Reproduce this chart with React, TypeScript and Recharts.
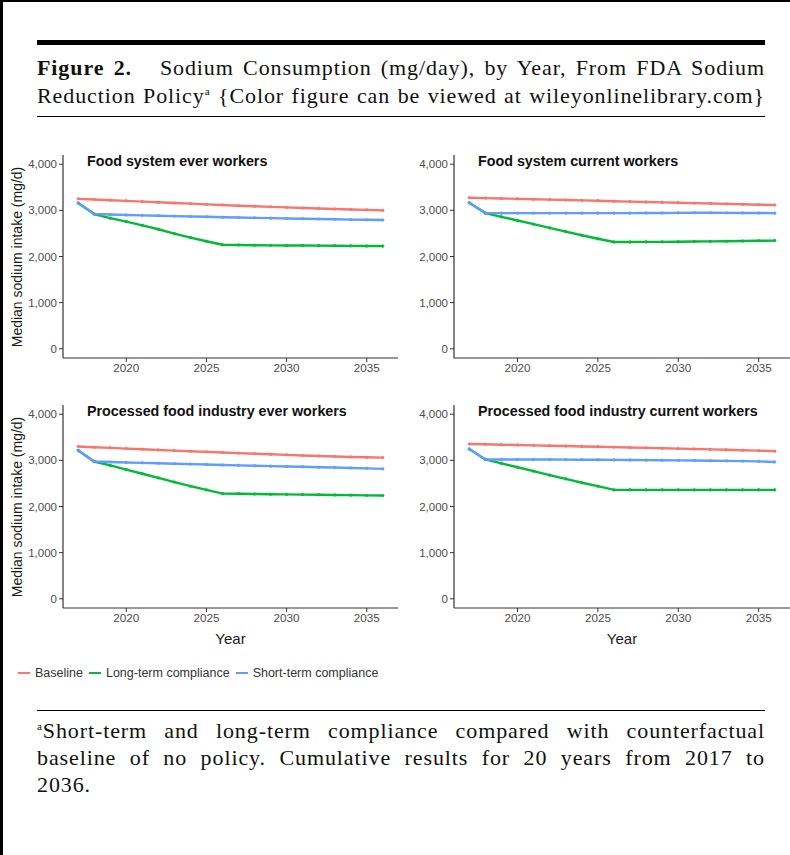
import React from "react";
import { Line, LineChart, XAxis, YAxis } from "recharts";

const years = [
  2017, 2018, 2019, 2020, 2021, 2022, 2023, 2024, 2025, 2026, 2027, 2028, 2029,
  2030, 2031, 2032, 2033, 2034, 2035, 2036,
];
const xTicks = [2020, 2025, 2030, 2035];
const yTicks = [0, 1000, 2000, 3000, 4000];

const seriesKeys = ["baseline", "longTerm", "shortTerm"];
const seriesNames = ["Baseline", "Long-term compliance", "Short-term compliance"];
const seriesColors = ["#F8766D", "#00BA38", "#619CFF"];

const panelTitles = [
  "Food system ever workers",
  "Food system current workers",
  "Processed food industry ever workers",
  "Processed food industry current workers",
];

// Food system ever workers
const foodEverBaseline = [3250, 3235, 3220, 3205, 3190, 3175, 3160, 3145, 3130, 3115, 3100, 3088, 3076, 3064, 3052, 3040, 3030, 3020, 3010, 3000];
const foodEverLong = [3160, 2920, 2830, 2755, 2675, 2590, 2495, 2410, 2330, 2255, 2250, 2245, 2242, 2240, 2238, 2235, 2232, 2230, 2228, 2225];
const foodEverShort = [3160, 2920, 2910, 2900, 2892, 2884, 2876, 2868, 2860, 2852, 2845, 2838, 2831, 2824, 2818, 2812, 2806, 2800, 2795, 2790];

// Food system current workers
const foodCurBaseline = [3275, 3266, 3258, 3250, 3241, 3233, 3224, 3216, 3207, 3199, 3190, 3182, 3173, 3165, 3157, 3148, 3140, 3132, 3123, 3115];
const foodCurLong = [3165, 2940, 2860, 2780, 2700, 2620, 2540, 2460, 2385, 2315, 2315, 2316, 2318, 2320, 2324, 2328, 2332, 2336, 2340, 2345];
const foodCurShort = [3165, 2940, 2940, 2940, 2940, 2940, 2940, 2940, 2940, 2940, 2940, 2942, 2944, 2946, 2948, 2948, 2946, 2944, 2942, 2940];

// Processed food industry ever workers
const procEverBaseline = [3300, 3285, 3270, 3255, 3240, 3226, 3212, 3198, 3184, 3170, 3157, 3144, 3131, 3118, 3106, 3094, 3084, 3074, 3066, 3060];
const procEverLong = [3215, 2975, 2890, 2800, 2710, 2620, 2530, 2440, 2360, 2280, 2275, 2270, 2266, 2262, 2258, 2254, 2250, 2246, 2242, 2238];
const procEverShort = [3215, 2975, 2965, 2955, 2946, 2937, 2928, 2919, 2910, 2901, 2892, 2884, 2876, 2868, 2860, 2852, 2844, 2836, 2826, 2815];

// Processed food industry current workers
const procCurBaseline = [3355, 3348, 3340, 3333, 3325, 3318, 3310, 3302, 3294, 3286, 3278, 3270, 3262, 3254, 3246, 3238, 3229, 3220, 3210, 3200];
const procCurLong = [3245, 3020, 2935, 2850, 2765, 2680, 2600, 2515, 2440, 2360, 2360, 2360, 2360, 2360, 2360, 2360, 2360, 2360, 2360, 2360];
const procCurShort = [3245, 3020, 3020, 3020, 3020, 3018, 3016, 3014, 3012, 3010, 3008, 3005, 3002, 2999, 2996, 2992, 2988, 2984, 2978, 2965];

const buildRows = (baseline: number[], longTerm: number[], shortTerm: number[]) =>
  years.map((year, i) => ({
    year,
    baseline: baseline[i],
    longTerm: longTerm[i],
    shortTerm: shortTerm[i],
  }));

// left/top are inside the bordered frame (3px left border, 2px top border)
const panels = [
  { title: panelTitles[0], rows: buildRows(foodEverBaseline, foodEverLong, foodEverShort), left: -3, top: 143, leftCol: true, bottomRow: false },
  { title: panelTitles[1], rows: buildRows(foodCurBaseline, foodCurLong, foodCurShort), left: 387, top: 143, leftCol: false, bottomRow: false },
  { title: panelTitles[2], rows: buildRows(procEverBaseline, procEverLong, procEverShort), left: -3, top: 393, leftCol: true, bottomRow: true },
  { title: panelTitles[3], rows: buildRows(procCurBaseline, procCurLong, procCurShort), left: 387, top: 393, leftCol: false, bottomRow: true },
];

const sans = "'Liberation Sans', Arial, Helvetica, sans-serif";
const serif = "'Liberation Serif', 'Times New Roman', serif";
const axisColor = "#333333";
const tickColor = "#4d4d4d";

type PanelProps = {
  title: string;
  rows: ReturnType<typeof buildRows>;
  left: number;
  top: number;
  leftCol: boolean;
  bottomRow: boolean;
};

function Panel({ title, rows, left, top, leftCol, bottomRow }: PanelProps) {
  const yAxisWidth = leftCol ? 63 : 64;
  const xAxisHeight = bottomRow ? 42 : 22;
  const plotLeft = left + yAxisWidth;

  return (
    <>
      <div style={{ position: "absolute", left, top, fontFamily: sans }}>
        <LineChart
          width={400}
          height={213 + xAxisHeight}
          data={rows}
          margin={{ top: 10, right: leftCol ? 2 : 0, bottom: 0, left: 0 }}
        >
          <XAxis
            dataKey="year"
            type="number"
            domain={[2016.05, 2036.95]}
            ticks={xTicks}
            allowDataOverflow
            height={xAxisHeight}
            tickSize={4}
            tickMargin={2}
            stroke={axisColor}
            axisLine={{ stroke: axisColor, strokeWidth: 1.2 }}
            tickLine={{ stroke: axisColor }}
            tick={{ fill: tickColor, fontSize: 11.7 }}
            label={
              bottomRow
                ? {
                    value: "Year",
                    position: "insideBottom",
                    offset: 6,
                    style: { fill: "#1a1a1a", fontSize: 15 },
                  }
                : undefined
            }
          />
          <YAxis
            type="number"
            domain={[-200, 4200]}
            ticks={yTicks}
            allowDataOverflow
            width={yAxisWidth}
            tickSize={4}
            tickMargin={2}
            stroke={axisColor}
            axisLine={{ stroke: axisColor, strokeWidth: 1.2 }}
            tickLine={{ stroke: axisColor }}
            tick={{ fill: tickColor, fontSize: 11.5 }}
            tickFormatter={(v: number) => v.toLocaleString("en-US")}
          />
          {seriesKeys.map((key, i) => (
            <Line
              key={key}
              type="linear"
              dataKey={key}
              stroke={seriesColors[i]}
              strokeWidth={2.4}
              dot={{ r: 1.3, fill: seriesColors[i], stroke: seriesColors[i], strokeWidth: 0.6 }}
              isAnimationActive={false}
            />
          ))}
        </LineChart>
      </div>
      <div
        style={{
          position: "absolute",
          left: plotLeft + 24,
          top: top + 8,
          fontFamily: sans,
          fontWeight: "bold",
          fontSize: 14.3,
          color: "#111",
          whiteSpace: "nowrap",
          lineHeight: "16px",
        }}
      >
        {title}
      </div>
      {leftCol ? (
        <div
          style={{
            position: "absolute",
            left: 14,
            top: top + 10 + 101.5,
            transform: "translate(-50%, -50%) rotate(-90deg)",
            fontFamily: sans,
            fontSize: 14,
            lineHeight: "16px",
            color: "#1a1a1a",
            whiteSpace: "nowrap",
          }}
        >
          Median sodium intake (mg/d)
        </div>
      ) : null}
    </>
  );
}

const lineStyle: React.CSSProperties = {
  position: "absolute",
  left: 34,
  width: 728,
  fontFamily: serif,
  fontSize: 22,
  letterSpacing: 0.9,
  lineHeight: "28px",
  color: "#111",
  textAlign: "justify",
  textAlignLast: "justify",
  whiteSpace: "nowrap",
};

export default function App() {
  return (
    <div
      style={{
        position: "absolute",
        left: 0,
        top: 0,
        width: 790,
        height: 855,
        background: "#fff",
        borderTop: "2px solid #000",
        borderLeft: "3px solid #000",
        boxSizing: "border-box",
        overflow: "hidden",
      }}
    >
      <div style={{ position: "absolute", left: 34, top: 38, width: 728, height: 5, background: "#000" }} />
      <div style={{ ...lineStyle, top: 52 }}>
        <b>Figure 2.</b>&nbsp;&nbsp; Sodium Consumption (mg/day), by Year, From FDA Sodium
      </div>
      <div style={{ ...lineStyle, top: 80 }}>
        Reduction Policy<sup style={{ fontSize: 11, lineHeight: 0 }}>a</sup> {"{"}Color figure can be viewed at wileyonlinelibrary.com{"}"}
      </div>
      <div style={{ position: "absolute", left: 34, top: 114, width: 728, height: 1, background: "#000" }} />

      {panels.map((p) => (
        <Panel key={p.title} {...p} />
      ))}

      <div
        style={{
          position: "absolute",
          left: 15,
          top: 664,
          display: "flex",
          alignItems: "center",
          fontFamily: sans,
          fontSize: 12.5,
          color: "#333",
          whiteSpace: "nowrap",
        }}
      >
        {seriesNames.map((name, i) => (
          <div key={name} style={{ display: "flex", alignItems: "center", marginRight: 6 }}>
            <div style={{ width: 12, height: 2, background: seriesColors[i], marginRight: 5 }} />
            <span>{name}</span>
          </div>
        ))}
      </div>

      <div style={{ position: "absolute", left: 34, top: 708, width: 728, height: 1, background: "#000" }} />
      <div style={{ ...lineStyle, top: 715, lineHeight: "27px" }}>
        <sup style={{ fontSize: 11, lineHeight: 0 }}>a</sup>Short-term and long-term compliance compared with counterfactual
      </div>
      <div style={{ ...lineStyle, top: 742, lineHeight: "27px" }}>
        baseline of no policy. Cumulative results for 20 years from 2017 to
      </div>
      <div style={{ ...lineStyle, top: 769, lineHeight: "27px", textAlignLast: "left" }}>
        2036.
      </div>
    </div>
  );
}
